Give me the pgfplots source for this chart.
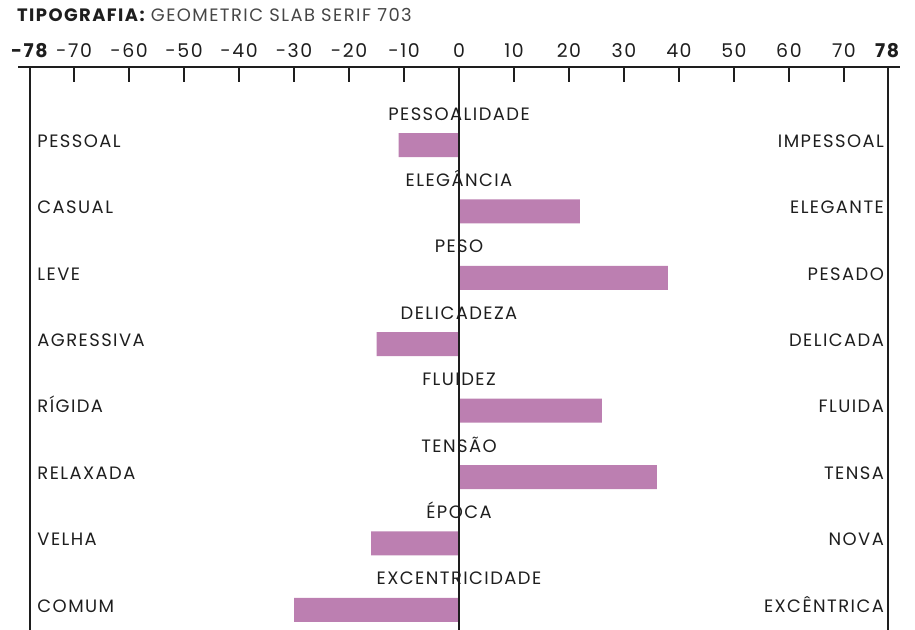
\documentclass[border=0pt]{standalone}
\usepackage{pgfplots}
\pgfplotsset{compat=1.18}
\usepackage{fontspec}
\setmainfont{Poppins}[LetterSpace=8]
\definecolor{barc}{RGB}{188,127,177}
\definecolor{txt}{RGB}{30,30,30}
\definecolor{ttl}{RGB}{70,70,70}
\begin{document}
\begin{tikzpicture}
\useasboundingbox (0bp,0bp) rectangle (915bp,630bp);
\begin{axis}[
  at={(18bp,0bp)}, anchor=south west,
  scale only axis, width=882bp, height=563bp,
  xmin=-80.2, xmax=80.2, ymin=-1.1747, ymax=7.304, y dir=reverse,
  axis x line=top, axis y line=none,
  x axis line style={-, line width=1.4bp, color=txt},
  xtick={-78,-70,-60,-50,-40,-30,-20,-10,0,10,20,30,40,50,60,70,78},
  xticklabels={\textbf{-78},-70,-60,-50,-40,-30,-20,-10,0,10,20,30,40,50,60,70,\textbf{78}},
  tick align=inside, major tick length=15bp,
  tick style={line width=1.4bp, color=txt},
  xticklabel style={font=\fontsize{19}{19}\selectfont, text=txt, inner sep=0bp, yshift=9bp},
  clip=false,
]
\addplot[xbar, bar width=24bp, fill=barc, draw=none] coordinates {
  (-11,0) (22,1) (38,2) (-15,3) (26,4) (36,5) (-16,6) (-30,7)};
\draw[line width=1.4bp, txt] (axis cs:-78,-1.1747) -- (axis cs:-78,7.304);
\draw[line width=1.4bp, txt] (axis cs:78,-1.1747) -- (axis cs:78,7.304);
\draw[line width=1.4bp, txt] (axis cs:0,-1.1747) -- (axis cs:0,7.304);
\begin{scope}[every node/.style={font=\fontsize{18}{18}\selectfont, text=txt, inner sep=0pt, text height=12.6bp, text depth=0pt}]
\node[anchor=west] at (axis cs:-76.7,-0.06) {PESSOAL};
\node[anchor=west] at (axis cs:-76.7,0.94) {CASUAL};
\node[anchor=west] at (axis cs:-76.7,1.94) {LEVE};
\node[anchor=west] at (axis cs:-76.7,2.94) {AGRESSIVA};
\node[anchor=west] at (axis cs:-76.7,3.94) {RÍGIDA};
\node[anchor=west] at (axis cs:-76.7,4.94) {RELAXADA};
\node[anchor=west] at (axis cs:-76.7,5.94) {VELHA};
\node[anchor=west] at (axis cs:-76.7,6.94) {COMUM};
\node[anchor=east] at (axis cs:77.3,-0.06) {IMPESSOAL};
\node[anchor=east] at (axis cs:77.3,0.94) {ELEGANTE};
\node[anchor=east] at (axis cs:77.3,1.94) {PESADO};
\node[anchor=east] at (axis cs:77.3,2.94) {DELICADA};
\node[anchor=east] at (axis cs:77.3,3.94) {FLUIDA};
\node[anchor=east] at (axis cs:77.3,4.94) {TENSA};
\node[anchor=east] at (axis cs:77.3,5.94) {NOVA};
\node[anchor=east] at (axis cs:77.3,6.94) {EXCÊNTRICA};
\node at (axis cs:0,-0.47) {PESSOALIDADE};
\node at (axis cs:0,0.53) {ELEGÂNCIA};
\node at (axis cs:0,1.53) {PESO};
\node at (axis cs:0,2.53) {DELICADEZA};
\node at (axis cs:0,3.53) {FLUIDEZ};
\node at (axis cs:0,4.53) {TENSÃO};
\node at (axis cs:0,5.53) {ÉPOCA};
\node at (axis cs:0,6.53) {EXCENTRICIDADE};
\end{scope}
\end{axis}
\node[anchor=west, inner sep=0pt, font=\fontsize{18}{18}\selectfont, text=ttl] at (17bp,615bp) {\textbf{\color{txt}TIPOGRAFIA:} GEOMETRIC SLAB SERIF 703};
\end{tikzpicture}
\end{document}
